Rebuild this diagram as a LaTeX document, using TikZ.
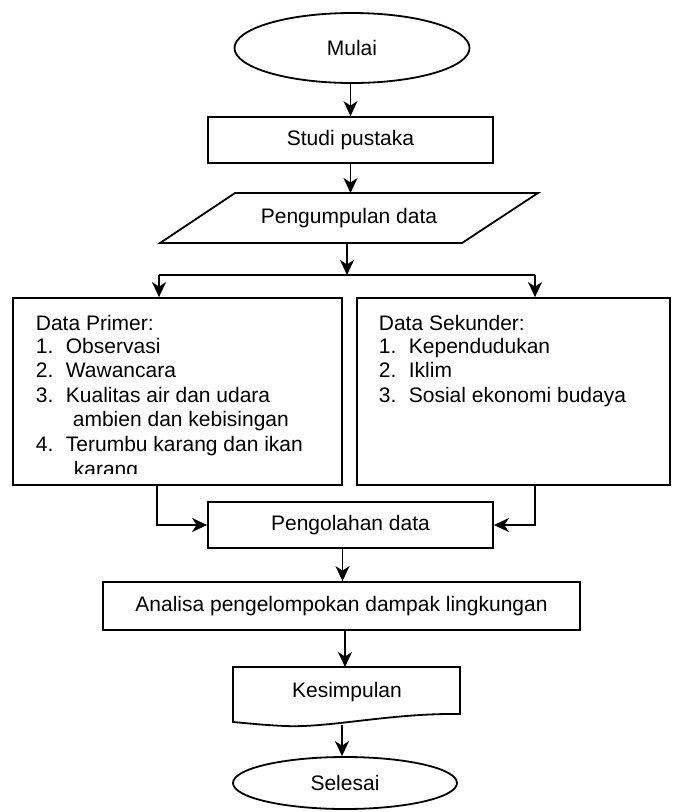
\documentclass[tikz,border=0pt]{standalone}
\usepackage{fontspec}
\setmainfont{Liberation Sans}
\usetikzlibrary{shapes.geometric,arrows.meta}
\begin{document}
\begin{tikzpicture}[x=1pt,y=-1pt, line width=1.8pt,
  arr/.style={-{Stealth[length=15pt,width=14pt,inset=4.5pt]}},
  box/.style={draw, rectangle, inner sep=0pt},
  term/.style={draw, ellipse, inner sep=0pt},
  txt/.style={inner sep=0pt, anchor=base west, font=\fontsize{21pt}{24pt}\selectfont},
  lbl/.style={inner sep=0pt, font=\fontsize{21pt}{24pt}\selectfont}]
\useasboundingbox (0,0) rectangle (674,812);

% Start
\node[term, lbl, minimum width=235pt, minimum height=70pt] (mulai) at (352,48) {Mulai};
% Studi pustaka
\node[box, lbl, minimum width=285pt, minimum height=46pt] (studi) at (350.5,140) {Studi pustaka};
% Pengumpulan data (parallelogram)
\draw (235,193) -- (538,193) -- (462,243) -- (160,243) -- cycle;
\node[lbl] (kumpul) at (349,218) {Pengumpulan data};
\coordinate (ktop) at (350,193);
\coordinate (kbot) at (347,243);

\draw[arr] (mulai.south -| studi.north) -- (studi.north);
\draw[arr] (studi.south) -- (studi.south |- ktop);

% split
\coordinate (split) at (347,275);
\coordinate (lsplit) at (159,275);
\coordinate (rsplit) at (535,275);
\draw[arr] (kbot) -- (split);
\draw (lsplit) -- (rsplit);

% Data boxes
\node[box, minimum width=329pt, minimum height=187pt] (primer) at (177.5,391.5) {};
\node[box, minimum width=313pt, minimum height=187pt] (sekunder) at (513.5,391.5) {};
\draw[arr] (lsplit) -- (lsplit |- primer.north);
\draw[arr] (rsplit) -- (rsplit |- sekunder.north);

% Primer text
\node[txt] (p0) at (35,330) {Data Primer:};
\node[txt] (p1n) at (35,353) {1.};
\node[txt] (p1) at (65,353) {Observasi};
\node[txt] (p2n) at (35,377.7) {2.};
\node[txt] (p2) at (65,377.7) {Wawancara};
\node[txt] (p3n) at (35,402.5) {3.};
\node[txt] (p3) at (65,402.5) {Kualitas air dan udara};
\node[txt] (p3b) at (72,426.7) {ambien dan kebisingan};
\node[txt] (p4n) at (35,451.5) {4.};
\node[txt] (p4) at (65,451.5) {Terumbu karang dan ikan};
\begin{scope}
\clip (14,299) rectangle (341,473.5);
\node[txt] (p4b) at (73,476) {karang};
\end{scope}

% Sekunder text
\node[txt] (s0) at (378,330) {Data Sekunder:};
\node[txt] (s1n) at (378,353) {1.};
\node[txt] (s1) at (408,353) {Kependudukan};
\node[txt] (s2n) at (378,377.7) {2.};
\node[txt] (s2) at (408,377.7) {Iklim};
\node[txt] (s3n) at (378,402.5) {3.};
\node[txt] (s3) at (408,402.5) {Sosial ekonomi budaya};

% Pengolahan data
\node[box, lbl, minimum width=285pt, minimum height=46pt] (olah) at (350.5,525) {Pengolahan data};
\coordinate (pout) at (157,485);
\coordinate (sout) at (535,485);
\draw[arr] (pout) |- (olah.west);
\draw[arr] (sout) |- (olah.east);

% Analisa
\node[box, lbl, minimum width=477pt, minimum height=48pt] (anal) at (341.5,606) {Analisa pengelompokan dampak lingkungan};
\draw[arr] ([xshift=-8pt]olah.south) -- ([xshift=-8pt]olah.south |- anal.north);

% Kesimpulan (document shape)
\draw (233,667) -- (460,667) -- (460,714)
  .. controls (390,713) and (330,728) .. (285,726)
  .. controls (262,725) and (245,723) .. (233,722) -- cycle;
\node[lbl] (kes) at (347,692) {Kesimpulan};
\coordinate (kestop) at (345,667);
\coordinate (kesbot) at (342,725);
\draw[arr] ([xshift=3.5pt]anal.south) -- (kestop);

% Selesai
\node[term, lbl, minimum width=224pt, minimum height=52pt] (selesai) at (345,783) {Selesai};
\draw[arr] (kesbot) -- (kesbot |- selesai.north);
\end{tikzpicture}
\end{document}
